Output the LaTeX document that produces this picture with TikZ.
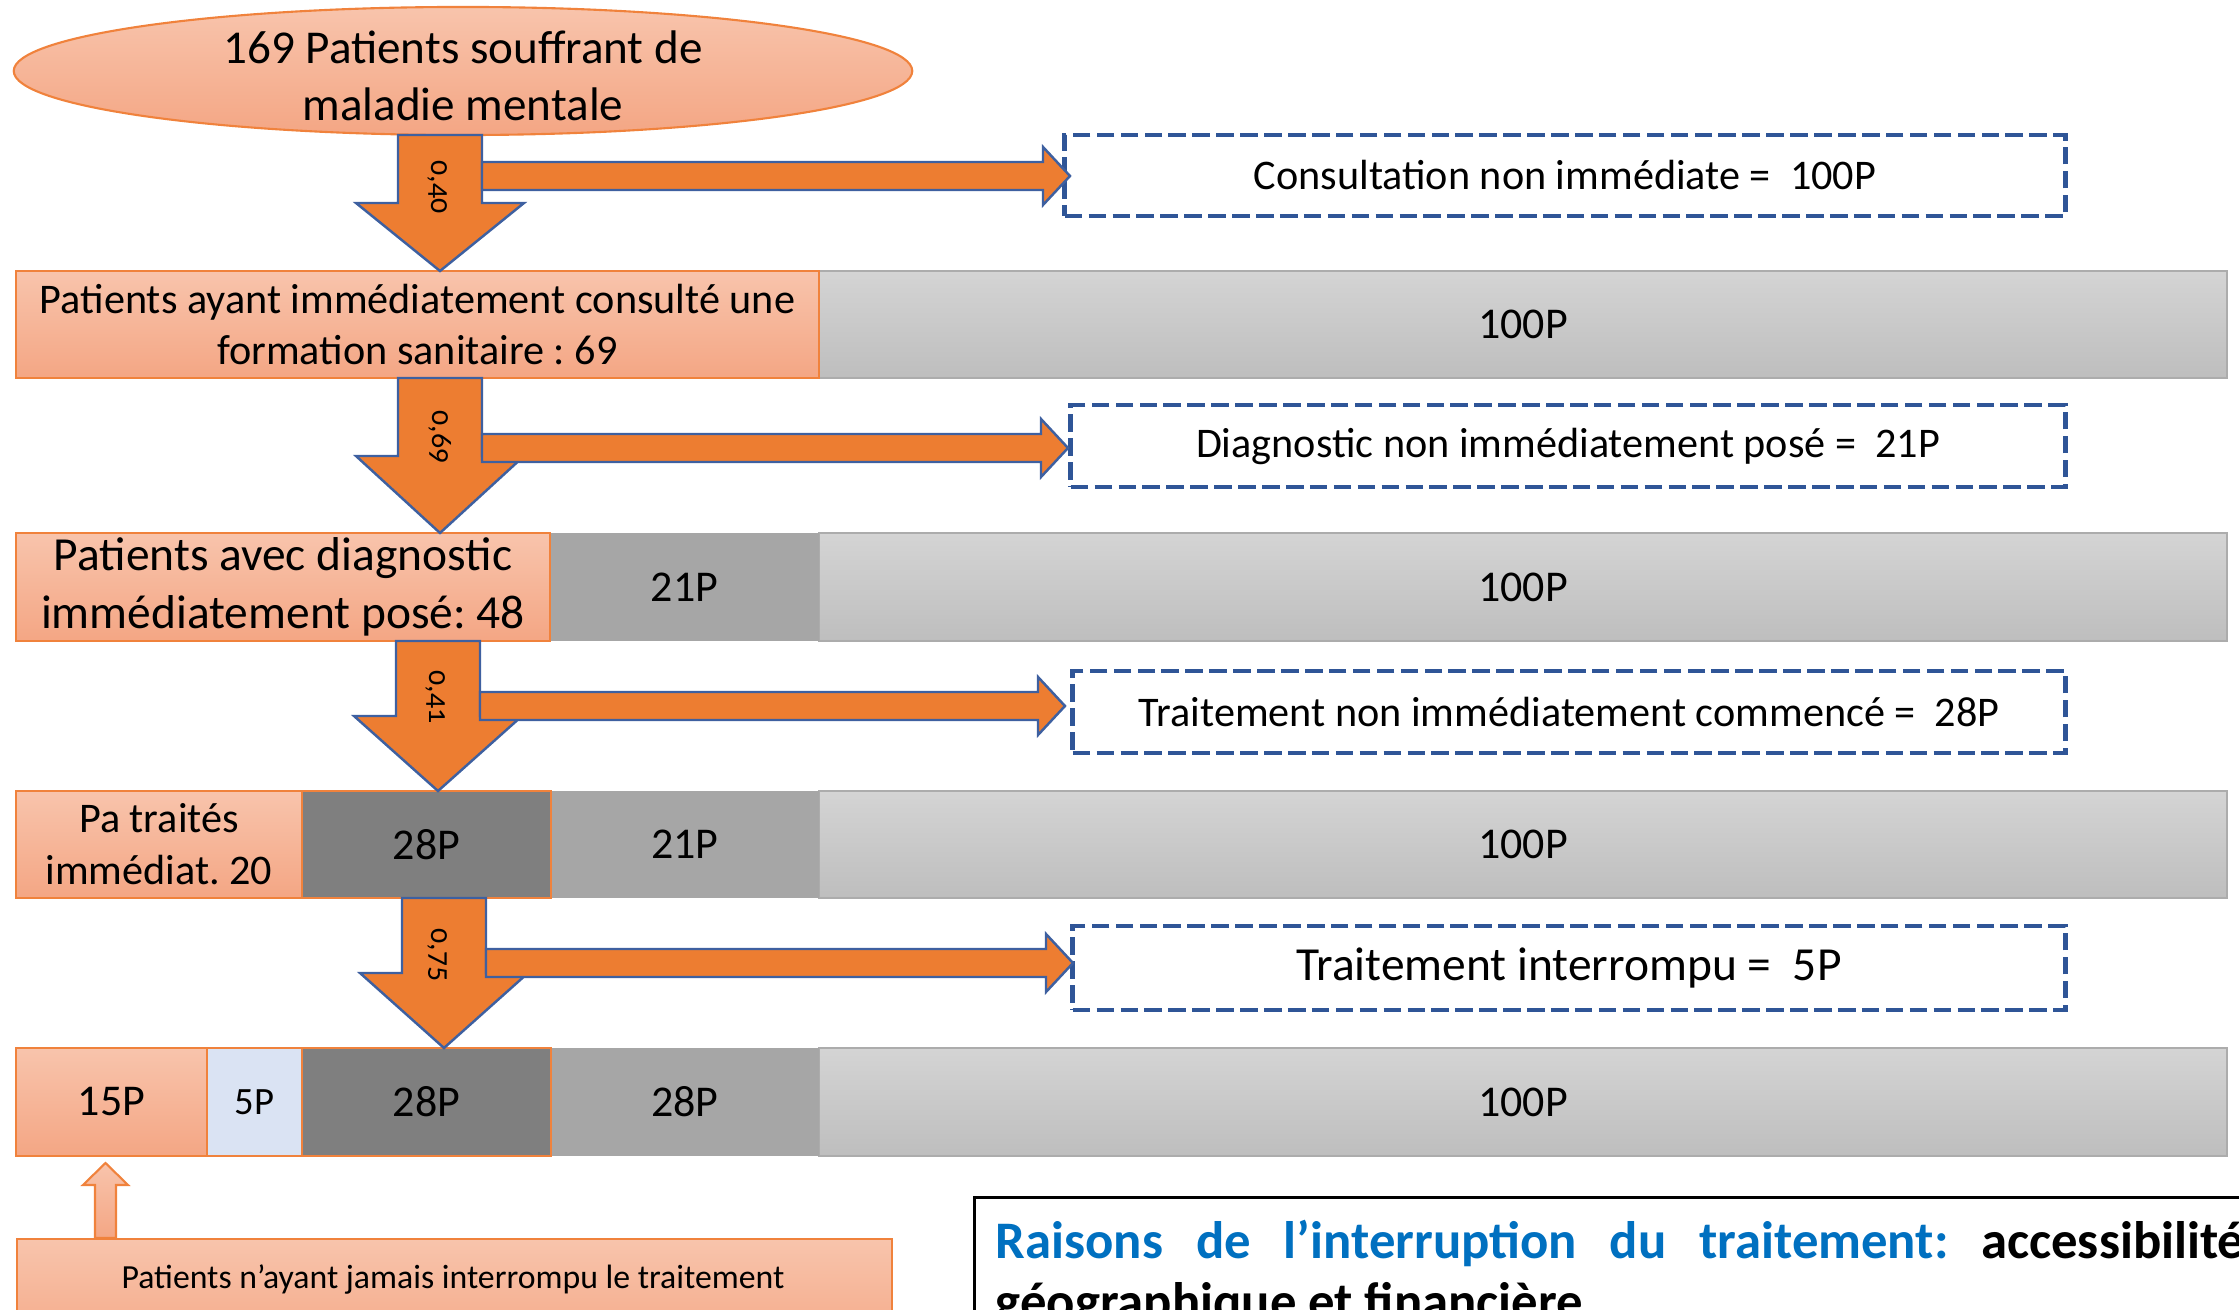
\documentclass[tikz,border=0pt]{standalone}
\usepackage{fontspec}
\setmainfont{Carlito}
\newfontfamily\oldnum{Carlito}[Numbers=OldStyle]
\usetikzlibrary{shapes.geometric}
\frenchspacing

\definecolor{orA}{RGB}{248,196,172}
\definecolor{orB}{RGB}{244,166,132}
\definecolor{orLine}{RGB}{240,130,60}
\definecolor{arrFill}{RGB}{237,125,49}
\definecolor{arrLine}{RGB}{62,96,160}
\definecolor{dashBlue}{RGB}{47,85,151}
\definecolor{gA}{RGB}{212,212,212}
\definecolor{gB}{RGB}{190,190,190}
\definecolor{gLine}{RGB}{172,172,172}
\definecolor{gMid}{RGB}{166,166,166}
\definecolor{gDark}{RGB}{127,127,127}
\definecolor{paleBlue}{RGB}{218,227,243}
\definecolor{txtBlue}{RGB}{0,112,192}

\newcommand{\bigdown}[4]{%
  \draw[blockarrow] ({#1-42},#2) -- ({#1-42},{#3-#4}) -- ({#1-84},{#3-#4}) -- (#1,#3)
    -- ({#1+84},{#3-#4}) -- ({#1+42},{#3-#4}) -- ({#1+42},#2) -- cycle;}
\newcommand{\bigright}[3]{%
  \draw[blockarrow] (#2,{#1-14}) -- ({#3-27},{#1-14}) -- ({#3-27},{#1-29}) -- (#3,#1)
    -- ({#3-27},{#1+29}) -- ({#3-27},{#1+14}) -- (#2,{#1+14}) -- cycle;}

\begin{document}
\frenchspacing
\begin{tikzpicture}[x=0.01cm, y=-0.01cm,
  orbox/.style={draw=orLine, line width=0.6pt, top color=orA, bottom color=orB, inner sep=0pt, align=center},
  seg/.style={inner sep=0pt, minimum height=1.07cm, font=\fontsize{12.5}{15}\selectfont},
  lightseg/.style={seg, draw=gLine, line width=0.6pt, top color=gA, bottom color=gB},
  midseg/.style={seg, fill=gMid},
  darkseg/.style={seg, fill=gDark, draw=orLine, line width=0.6pt},
  blueseg/.style={seg, fill=paleBlue, draw=orLine, line width=0.6pt, font=\fontsize{11}{13}\selectfont},
  dashbox/.style={draw=dashBlue, line width=1.3pt, dash pattern=on 5pt off 1.8pt, inner sep=0pt, minimum height=0.82cm, font=\fontsize{12}{14}\selectfont},
  blockarrow/.style={fill=arrFill, draw=arrLine, line width=0.7pt, line join=miter},
  ratio/.style={rotate=-90, inner sep=0pt, font=\oldnum\fontsize{8.5}{10}\selectfont},
]
\useasboundingbox (0,0) rectangle (2239,1310);
\clip (0,0) rectangle (2239,1310);

% ellipse
\node[ellipse, orbox, minimum width=8.98cm, minimum height=1.28cm] (el) at (463,71) {};
\node[align=center, inner sep=0pt, font=\fontsize{13.4}{16.2}\selectfont] (elt) at (463,76) {169 Patients souffrant de\\maladie mentale};

% row 1
\node[lightseg, minimum width=14.08cm] (g1) at (1523,324.5) {100P};
\node[orbox, seg, minimum width=8.03cm, font=\fontsize{12}{14.6}\selectfont] (o1) at (417.5,324.5) {Patients ayant immédiatement consulté une\\formation sanitaire : 69};

% row 2
\node[lightseg, minimum width=14.08cm, minimum height=1.08cm] (g2) at (1523,587) {100P};
\node[midseg, minimum width=2.69cm, minimum height=1.08cm] (m2) at (684.5,587) {21P};
\node[orbox, seg, minimum width=5.34cm, minimum height=1.08cm, font=\fontsize{13.5}{16.3}\selectfont] (o2) at (283,587) {Patients avec diagnostic\\immédiatement posé: 48};

% row 3
\node[lightseg, minimum width=14.08cm] (g3) at (1523,844.5) {100P};
\node[midseg, minimum width=2.68cm] (m3) at (685,844.5) {21P};
\node[darkseg, minimum width=2.49cm] (d3) at (426.5,844.5) {28P};
\node[orbox, seg, minimum width=2.86cm, font=\fontsize{12}{14.8}\selectfont] (o3) at (159,844.5) {Pa traités\\immédiat. 20};

% row 4
\node[lightseg, minimum width=14.08cm, minimum height=1.08cm] (g4) at (1523,1102) {100P};
\node[midseg, minimum width=2.68cm, minimum height=1.08cm] (m4) at (685,1102) {28P};
\node[darkseg, minimum width=2.49cm, minimum height=1.08cm] (d4) at (426.5,1102) {28P};
\node[blueseg, minimum width=0.95cm, minimum height=1.08cm] (b4) at (254.5,1102) {5P};
\node[orbox, seg, minimum width=1.91cm, minimum height=1.08cm, font=\fontsize{12.5}{15}\selectfont] (o4) at (111.5,1102) {15P};

% dashed boxes
\node[dashbox, minimum width=10.0cm, minimum height=0.81cm] (db1) at (1565,175.5) {Consultation non immédiate =\ \ 100P};
\node[dashbox, minimum width=9.94cm] (db2) at (1568,446) {Diagnostic non immédiatement posé =\ \ 21P};
\node[dashbox, minimum width=9.92cm] (db3) at (1569,712) {Traitement non immédiatement commencé =\ \ 28P};
\node[dashbox, minimum width=9.92cm, minimum height=0.84cm, font=\fontsize{13.5}{16}\selectfont] (db4) at (1569,968) {Traitement interrompu =\ \ 5P};

% big down arrows
\bigdown{440}{135}{271}{68}
\bigdown{440}{378}{533}{77}
\bigdown{438}{641}{791}{75}
\bigdown{444}{898}{1048}{75}
% right arrows
\bigright{176}{482}{1070}
\bigright{448}{482}{1068}
\bigright{706}{480}{1065}
\bigright{963}{486}{1073}
% ratios
\node[ratio] (r1) at (438,187) {0,40};
\node[ratio] (r2) at (440,437) {0,69};
\node[ratio] (r3) at (436,697) {0,41};
\node[ratio] (r4) at (438,955) {0,75};

% bottom left box and small arrow
\node[orbox, minimum width=8.74cm, minimum height=1.2cm, anchor=north west] (bl) at (16,1238) {};
\node[anchor=base, inner sep=0pt, font=\fontsize{9.6}{11.5}\selectfont] (blt) at (453,1288) {Patients n’ayant jamais interrompu le traitement};
\draw[draw=orLine, line width=0.6pt, top color=orA, bottom color=orB]
  (95,1238) -- (95,1185) -- (83,1185) -- (105.5,1163) -- (128,1185) -- (116,1185) -- (116,1238) -- cycle;

% bottom right box
\node[draw=black, line width=0.9pt, minimum width=13cm, minimum height=2cm, anchor=north west, inner sep=0pt] (br) at (973,1196) {};
\node[anchor=base west, inner sep=0pt, font=\bfseries\fontsize{15}{18}\selectfont] (brt1) at (995,1258)
  {\makebox[12.48cm][s]{\color{txtBlue}Raisons de l’interruption du traitement: \color{black}accessibilité}};
\node[anchor=base west, inner sep=0pt, font=\bfseries\fontsize{15}{18}\selectfont] (brt2) at (995,1319) {géographique et financière};
\end{tikzpicture}
\end{document}
